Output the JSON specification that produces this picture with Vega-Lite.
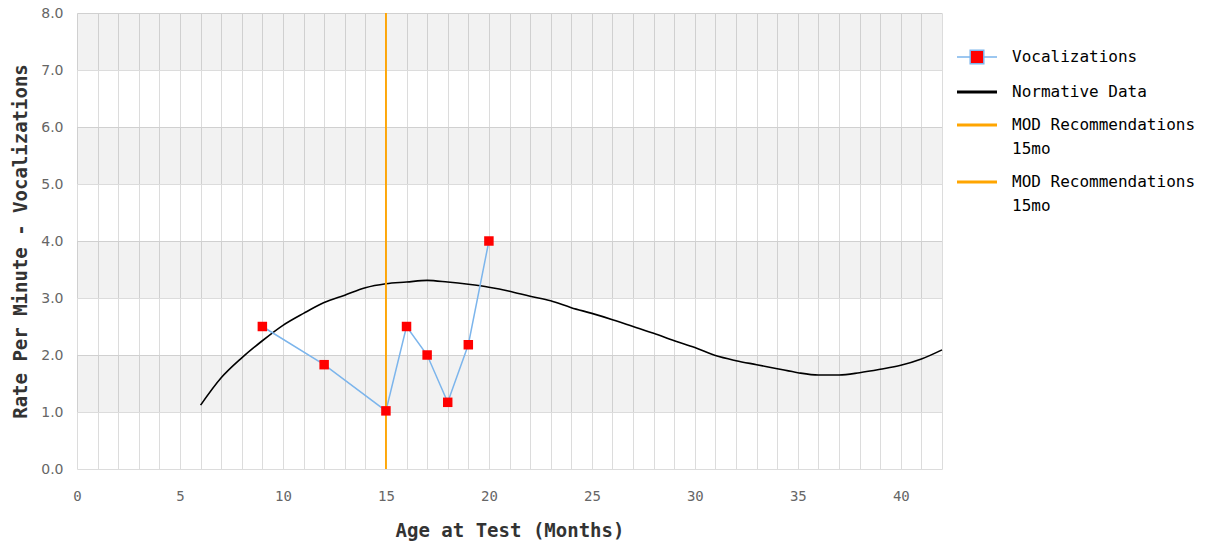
{
  "$schema": "https://vega.github.io/schema/vega-lite/v6.json",
  "width": 865,
  "height": 456,
  "autosize": {"type": "none"},
  "padding": {"left": 77, "top": 13, "right": 285, "bottom": 81},
  "background": "white",
  "config": {"view": {"stroke": null}},
  "datasets": {
    "bands": [{"lo": 1, "hi": 2}, {"lo": 3, "hi": 4}, {"lo": 5, "hi": 6}, {"lo": 7, "hi": 8}],
    "voc": [
      {"age": 9, "rate": 2.5, "series": "Vocalizations"},
      {"age": 12, "rate": 1.83, "series": "Vocalizations"},
      {"age": 15, "rate": 1.02, "series": "Vocalizations"},
      {"age": 16, "rate": 2.5, "series": "Vocalizations"},
      {"age": 17, "rate": 2.0, "series": "Vocalizations"},
      {"age": 18, "rate": 1.17, "series": "Vocalizations"},
      {"age": 19, "rate": 2.18, "series": "Vocalizations"},
      {"age": 20, "rate": 4.0, "series": "Vocalizations"}
    ],
    "norm": [
      {"age": 6, "rate": 1.12, "series": "Normative Data"},
      {"age": 7, "rate": 1.6, "series": "Normative Data"},
      {"age": 8, "rate": 1.95, "series": "Normative Data"},
      {"age": 9, "rate": 2.25, "series": "Normative Data"},
      {"age": 10, "rate": 2.52, "series": "Normative Data"},
      {"age": 11, "rate": 2.73, "series": "Normative Data"},
      {"age": 12, "rate": 2.92, "series": "Normative Data"},
      {"age": 13, "rate": 3.05, "series": "Normative Data"},
      {"age": 14, "rate": 3.18, "series": "Normative Data"},
      {"age": 15, "rate": 3.25, "series": "Normative Data"},
      {"age": 16, "rate": 3.28, "series": "Normative Data"},
      {"age": 17, "rate": 3.31, "series": "Normative Data"},
      {"age": 18, "rate": 3.28, "series": "Normative Data"},
      {"age": 19, "rate": 3.24, "series": "Normative Data"},
      {"age": 20, "rate": 3.19, "series": "Normative Data"},
      {"age": 21, "rate": 3.12, "series": "Normative Data"},
      {"age": 22, "rate": 3.03, "series": "Normative Data"},
      {"age": 23, "rate": 2.95, "series": "Normative Data"},
      {"age": 24, "rate": 2.83, "series": "Normative Data"},
      {"age": 25, "rate": 2.73, "series": "Normative Data"},
      {"age": 26, "rate": 2.62, "series": "Normative Data"},
      {"age": 27, "rate": 2.5, "series": "Normative Data"},
      {"age": 28, "rate": 2.38, "series": "Normative Data"},
      {"age": 29, "rate": 2.25, "series": "Normative Data"},
      {"age": 30, "rate": 2.13, "series": "Normative Data"},
      {"age": 31, "rate": 1.99, "series": "Normative Data"},
      {"age": 32, "rate": 1.9, "series": "Normative Data"},
      {"age": 33, "rate": 1.83, "series": "Normative Data"},
      {"age": 34, "rate": 1.76, "series": "Normative Data"},
      {"age": 35, "rate": 1.69, "series": "Normative Data"},
      {"age": 36, "rate": 1.65, "series": "Normative Data"},
      {"age": 37, "rate": 1.65, "series": "Normative Data"},
      {"age": 38, "rate": 1.69, "series": "Normative Data"},
      {"age": 39, "rate": 1.75, "series": "Normative Data"},
      {"age": 40, "rate": 1.82, "series": "Normative Data"},
      {"age": 41, "rate": 1.93, "series": "Normative Data"},
      {"age": 42, "rate": 2.09, "series": "Normative Data"}
    ],
    "mod": [
      {"age": 15, "series": "MOD1"},
      {"age": 15, "series": "MOD2"}
    ]
  },
  "encoding": {
    "x": {
      "field": "age",
      "type": "quantitative",
      "scale": {"domain": [0, 42], "nice": false, "zero": false},
      "axis": {
        "values": [0,1,2,3,4,5,6,7,8,9,10,11,12,13,14,15,16,17,18,19,20,21,22,23,24,25,26,27,28,29,30,31,32,33,34,35,36,37,38,39,40,41,42],
        "labelExpr": "datum.value % 5 === 0 ? datum.label : ''",
        "ticks": false,
        "domain": false,
        "grid": true,
        "gridColor": "#dcdcdc",
        "gridWidth": 1,
        "labelFlush": false,
        "labelFont": "DejaVu Sans Mono",
        "labelFontSize": 14,
        "labelColor": "#666666",
        "labelPadding": 20,
        "title": "Age at Test (Months)",
        "titleFont": "DejaVu Sans Mono",
        "titleFontSize": 19,
        "titleFontWeight": "bold",
        "titleColor": "#333333",
        "titlePadding": 18
      }
    }
  },
  "layer": [
    {
      "data": {"name": "bands"},
      "mark": {"type": "rect", "color": "#000000", "fillOpacity": 0.05, "strokeWidth": 0},
      "encoding": {
        "x": null,
        "y": {
          "field": "lo",
          "type": "quantitative",
          "scale": {"domain": [0, 8], "nice": false},
          "axis": {
            "values": [0,1,2,3,4,5,6,7,8],
            "format": ".1f",
            "ticks": false,
            "domain": false,
            "grid": true,
            "gridColor": "#dcdcdc",
            "labelFont": "DejaVu Sans",
            "labelFontSize": 14,
            "labelColor": "#666666",
            "labelPadding": 14,
            "title": "Rate Per Minute - Vocalizations",
            "titleFont": "DejaVu Sans Mono",
            "titleFontSize": 19,
            "titleFontWeight": "bold",
            "titleColor": "#333333",
            "titlePadding": 10
          }
        },
        "y2": {"field": "hi"}
      }
    },
    {
      "data": {"name": "norm"},
      "mark": {"type": "line", "strokeWidth": 1.6, "interpolate": "monotone"},
      "encoding": {
        "y": {"field": "rate", "type": "quantitative"},
        "color": {
          "field": "series",
          "type": "nominal",
          "scale": {
            "domain": ["Vocalizations", "Normative Data", "MOD1", "MOD2"],
            "range": ["#7cb5ec", "#000000", "#ffa500", "#ffa500"]
          },
          "legend": {
            "title": null,
            "orient": "none",
            "legendX": 892,
            "legendY": 36,
            "direction": "vertical",
            "symbolType": "stroke",
            "symbolSize": 1600,
            "labelFont": "DejaVu Sans Mono",
            "labelFontSize": 16,
            "labelColor": "#000000",
            "labelLimit": 320,
            "labelOffset": 27,
            "rowPadding": 17,
            "labelExpr": "indexof(datum.label, 'MOD') === 0 ? ['MOD Recommendations', '\u00a015mo'] : datum.label",
            "encode": {
              "labels": {"update": {"lineHeight": {"value": 24}}},
              "symbols": {
                "update": {
                  "shape": {"signal": "datum.value === 'Vocalizations' ? 'M-1,0H-0.36M0.36,0H1M-0.34,-0.34H0.34V0.34H-0.34Z' : 'stroke'"},
                  "fill": {"signal": "datum.value === 'Vocalizations' ? '#ff0000' : 'transparent'"},
                  "stroke": {"signal": "datum.value === 'Vocalizations' ? '#7cb5ec' : (datum.value === 'Normative Data' ? '#000000' : '#ffa500')"},
                  "strokeWidth": {"signal": "datum.value === 'Vocalizations' ? 1.5 : 3"},
                  "size": {"value": 1600},
                  "opacity": {"value": 1}
                }
              }
            }
          }
        }
      }
    },
    {
      "data": {"name": "voc"},
      "mark": {"type": "line", "strokeWidth": 1.5},
      "encoding": {
        "y": {"field": "rate", "type": "quantitative"},
        "color": {"field": "series", "type": "nominal"}
      }
    },
    {
      "data": {"name": "mod"},
      "mark": {"type": "rule", "strokeWidth": 1.5},
      "encoding": {
        "color": {"field": "series", "type": "nominal"}
      }
    },
    {
      "data": {"name": "voc"},
      "mark": {"type": "point", "shape": "square", "filled": true, "size": 90, "opacity": 1, "color": "#ff0000"},
      "encoding": {
        "y": {"field": "rate", "type": "quantitative"}
      }
    }
  ]
}
